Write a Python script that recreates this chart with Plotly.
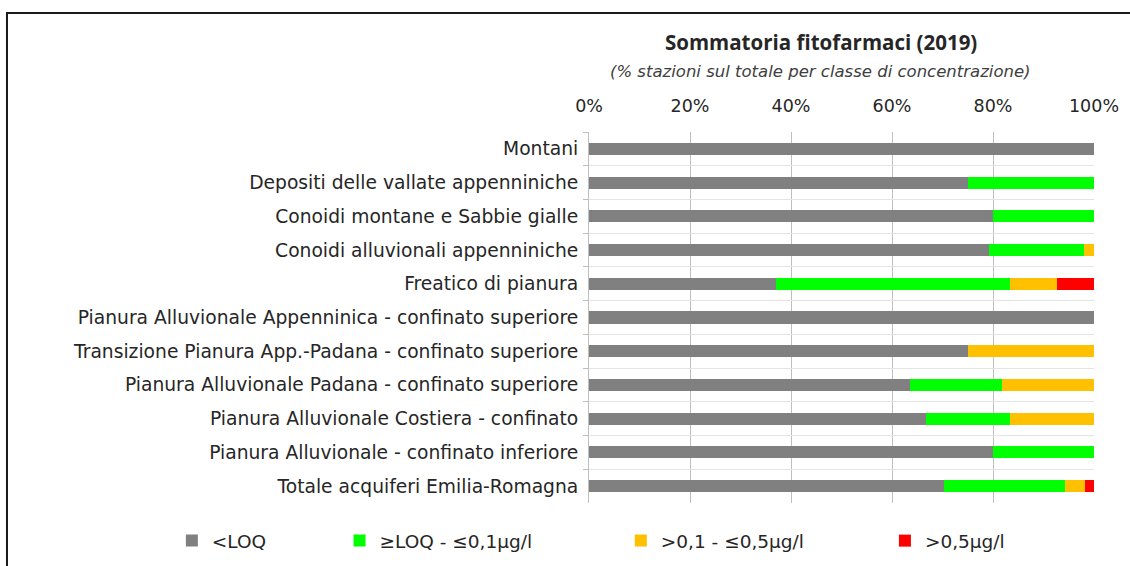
import plotly.graph_objects as go

# Aquifer groups (top to bottom) and station share per concentration class (%)
categories = [
    "Montani",
    "Depositi delle vallate appenniniche",
    "Conoidi montane e Sabbie gialle",
    "Conoidi alluvionali appenniniche",
    "Freatico di pianura",
    "Pianura Alluvionale Appenninica - confinato superiore",
    "Transizione Pianura App.-Padana - confinato superiore",
    "Pianura Alluvionale Padana - confinato superiore",
    "Pianura Alluvionale Costiera - confinato",
    "Pianura Alluvionale - confinato inferiore",
    "Totale acquiferi Emilia-Romagna",
]
below_loq = [100.0, 75.0, 80.0, 79.2, 37.0, 100.0, 75.0, 63.6, 66.7, 80.0, 70.3]
loq_to_01 = [0.0, 25.0, 20.0, 18.9, 46.3, 0.0, 0.0, 18.2, 16.7, 20.0, 24.0]
from_01_to_05 = [0.0, 0.0, 0.0, 1.9, 9.3, 0.0, 25.0, 18.2, 16.6, 0.0, 3.9]
above_05 = [0.0, 0.0, 0.0, 0.0, 7.4, 0.0, 0.0, 0.0, 0.0, 0.0, 1.8]

series_names = ["<LOQ", "≥LOQ - ≤0,1µg/l", ">0,1 - ≤0,5µg/l", ">0,5µg/l"]
series_values = [below_loq, loq_to_01, from_01_to_05, above_05]
series_colors = ["#808080", "#00ff00", "#ffc000", "#ff0000"]
legend_ids = ["legend", "legend2", "legend3", "legend4"]
legend_x = [-0.826, -0.494, 0.063, 0.586]

TEXT = "#262626"
LABEL_FONT = "DejaVu Sans"

fig = go.Figure()
for name, vals, color, lid in zip(series_names, series_values, series_colors, legend_ids):
    fig.add_trace(go.Bar(
        y=categories, x=vals, name=name, orientation="h",
        marker=dict(color=color, line=dict(width=0)),
        legend=lid,
    ))

legend_common = dict(
    orientation="h", yref="container", y=0.044, yanchor="middle", xanchor="left",
    font=dict(family=LABEL_FONT, size=18.5, color=TEXT),
    bgcolor="rgba(0,0,0,0)", borderwidth=0,
)
layout_legends = {lid: dict(x=lx, **legend_common) for lid, lx in zip(legend_ids, legend_x)}

fig.update_layout(
    width=1130, height=566,
    margin=dict(l=589, r=36, t=132, b=63, autoexpand=False),
    paper_bgcolor="white", plot_bgcolor="white",
    barmode="stack", bargap=0.64,
    showlegend=True,
    **layout_legends,
    xaxis=dict(
        side="top", range=[0, 100], dtick=20, ticksuffix="%",
        showgrid=True, gridcolor="#bfbfbf", gridwidth=1,
        zeroline=False, showline=False, ticks="",
        tickfont=dict(family=LABEL_FONT, size=17.5, color=TEXT),
        ticklabelstandoff=16, automargin=False,
        fixedrange=True,
    ),
    yaxis=dict(
        categoryorder="array", categoryarray=categories, autorange="reversed",
        tickson="boundaries", ticks="outside", ticklen=5, tickcolor="#bfbfbf",
        showline=True, linecolor="#bfbfbf", linewidth=1,
        showgrid=True, gridcolor="#e4e4e4", gridwidth=1,
        tickfont=dict(family=LABEL_FONT, size=18.7, color=TEXT),
        ticklabelstandoff=6, automargin=False,
        fixedrange=True,
    ),
    annotations=[
        dict(text="<b>Sommatoria fitofarmaci (2019)</b>", x=0.459, y=1.242,
             xref="paper", yref="paper", showarrow=False, xanchor="center", yanchor="middle",
             font=dict(family="Open Sans", size=20.5, color=TEXT)),
        dict(text="<i>(% stazioni sul totale per classe di concentrazione)</i>", x=0.459, y=1.164,
             xref="paper", yref="paper", showarrow=False, xanchor="center", yanchor="middle",
             font=dict(family="DejaVu Sans", size=16.5, color="#404040")),
    ],
    shapes=[
        dict(type="rect", xref="paper", yref="paper",
             x0=-1.1525, x1=1.2, y0=-0.3, y1=1.3208,
             line=dict(color="#1a1a1a", width=2), fillcolor="rgba(0,0,0,0)", layer="below"),
    ],
)

fig.write_html("out.html")
